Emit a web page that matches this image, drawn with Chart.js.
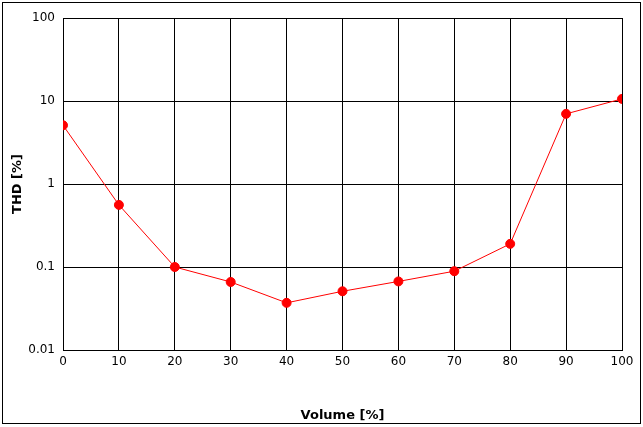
<!DOCTYPE html>
<html>
<head>
<meta charset="utf-8">
<script src="https://cdn.jsdelivr.net/npm/chart.js@4"></script>
<style>
  html, body { margin: 0; padding: 0; background: #fff; }
  #wrap { width: 643px; height: 427px; }
</style>
</head>
<body>
<div id="wrap"><canvas id="thdChart" width="643" height="427"></canvas></div>
<script>
// datos
const volume = [0, 10, 20, 30, 40, 50, 60, 70, 80, 90, 100];
const thd = [5.1, 0.56, 0.1, 0.066, 0.037, 0.051, 0.067, 0.089, 0.19, 7.0, 10.6];
const yTicks = [0.01, 0.1, 1, 10, 100];

// marco exterior
const framePlugin = {
    id: 'frame',
    afterDraw(chart) {
        const ctx = chart.ctx;
        ctx.save();
        ctx.strokeStyle = '#000';
        ctx.lineWidth = 1;
        ctx.strokeRect(2.5, 2.5, 638, 421);
        ctx.restore();
    }
};

const ctx = document.getElementById('thdChart').getContext('2d');
new Chart(ctx, {
    type: 'line',
    data: {
        datasets: [{
            data: volume.map((v, i) => ({ x: v, y: thd[i] })),
            borderColor: '#ff0000',
            backgroundColor: '#ff0000',
            borderWidth: 1,
            pointRadius: 4.5,
            pointHoverRadius: 4.5,
            tension: 0
        }]
    },
    options: {
        responsive: false,
        animation: false,
        layout: { padding: { top: 18, right: 21, left: 6, bottom: 0 } },
        plugins: { legend: { display: false }, tooltip: { enabled: false } },
        scales: {
            x: {
                type: 'linear',
                min: 0,
                max: 100,
                ticks: { stepSize: 10, color: '#000', font: { family: 'DejaVu Sans', size: 12 }, padding: 5 },
                grid: { color: '#000', drawTicks: false },
                border: { color: '#000' },
                title: { display: true, text: 'Volume [%]', color: '#000', font: { family: 'DejaVu Sans', size: 13, weight: 'bold' }, padding: { top: 8 } },
                afterFit(axis) { axis.height = 77; }
            },
            y: {
                type: 'logarithmic',
                min: 0.01,
                max: 100,
                afterBuildTicks(axis) { axis.ticks = yTicks.map(v => ({ value: v })); },
                ticks: {
                    color: '#000',
                    font: { family: 'DejaVu Sans', size: 12 },
                    padding: 8,
                    callback: v => String(v)
                },
                grid: { color: '#000', drawTicks: false },
                border: { color: '#000' },
                title: { display: true, text: 'THD [%]', color: '#000', font: { family: 'DejaVu Sans', size: 13, weight: 'bold' } },
                afterFit(axis) { axis.width = 57; }
            }
        }
    },
    plugins: [framePlugin]
});
</script>
</body>
</html>
